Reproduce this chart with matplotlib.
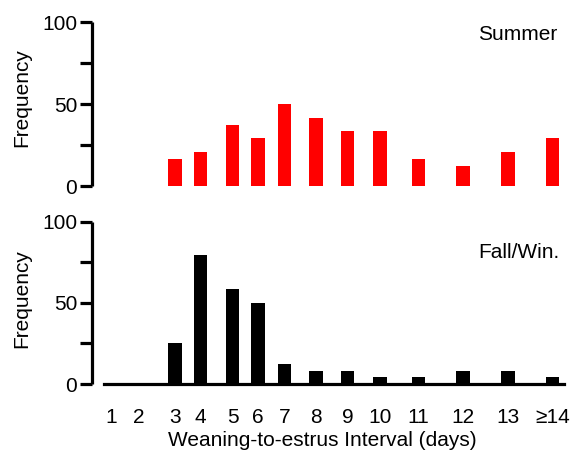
"""Weaning-to-estrus interval histograms, summer vs fall/winter."""

import matplotlib

matplotlib.use("Agg")
import matplotlib.pyplot as plt  # noqa: E402

plt.rcParams["font.family"] = ["Liberation Sans", "DejaVu Sans"]
plt.rcParams["font.size"] = 15

# data
days = ["1", "2", "3", "4", "5", "6", "7", "8", "9", "10", "11", "12", "13",
        "\u226514"]
summer = [0, 0, 16.7, 20.8, 37.5, 29.2, 50.0, 41.7, 33.3, 33.3, 16.7, 12.5,
          20.8, 29.2]
fall_win = [0, 0, 25.0, 79.6, 58.3, 50.0, 12.5, 8.3, 8.3, 4.2, 4.2, 8.3,
            8.3, 4.2]
y_ticks = [0, 50, 100]
y_minor = [25, 75]

# layout (x in pixel units of the 574 px wide canvas)
W, H = 574, 459
x_pos = [111, 139, 175, 200.5, 232.5, 258, 284.5, 316, 347.5, 380, 418.5,
         463, 508, 552.5]
bar_w = 13.7
x0 = 91.7

fig = plt.figure(figsize=(W / 100, H / 100), dpi=100)


def panel(bottom_px, top_px):
    ax = fig.add_axes([x0 / W, (H - bottom_px) / H, 1 - x0 / W,
                       (bottom_px - top_px) / H])
    ax.set_xlim(x0, W)
    ax.set_ylim(0, 100)
    for side in ("top", "right", "bottom"):
        ax.spines[side].set_visible(False)
    ax.spines["left"].set_linewidth(2.3)
    ax.spines["left"].set_capstyle("butt")
    ax.set_yticks(y_ticks)
    ax.set_yticks(y_minor, minor=True)
    ax.tick_params(axis="y", which="both", length=9, width=2.3, pad=1.5)
    return ax


ax1 = panel(186, 22.3)
ax1.bar(x_pos, summer, width=bar_w, color="#ff0000", linewidth=0)
ax1.set_xticks([])
ax1.text((557 - x0) / (W - x0), (186 - 35) / (186 - 22.3),
         "Summer", transform=ax1.transAxes, ha="right", va="center")

ax2 = panel(384, 221.7)
ax2.bar(x_pos, fall_win, width=bar_w, color="black", linewidth=0, zorder=3)
ax2.spines["bottom"].set_visible(True)
ax2.spines["bottom"].set_linewidth(2.3)
ax2.spines["bottom"].set_bounds(104.3, 564.3)
ax2.set_xticks(x_pos)
ax2.set_xticklabels(days)
ax2.tick_params(axis="x", length=0, pad=17)
ax2.text((559 - x0) / (W - x0), (384 - 253) / (384 - 221.7),
         "Fall/Win.", transform=ax2.transAxes, ha="right", va="center")

fig.text(22 / W, (H - 97.5) / H, "Frequency", rotation=90,
         ha="center", va="center")
fig.text(22 / W, (H - 299) / H, "Frequency", rotation=90,
         ha="center", va="center")
fig.text(322 / W, (H - 440) / H, "Weaning-to-estrus Interval (days)",
         ha="center", va="center")

fig.savefig("out.png", dpi=100)
